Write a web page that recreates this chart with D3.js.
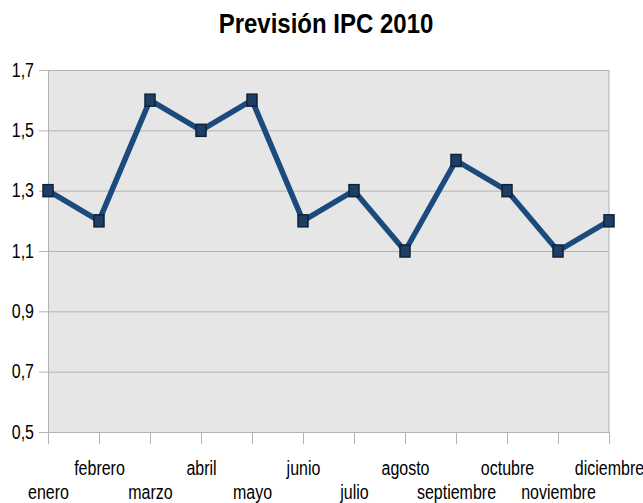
<!DOCTYPE html>
<html><head><meta charset="utf-8">
<script src="https://cdn.jsdelivr.net/npm/d3@7"></script>
<style>body{margin:0;background:#fff}</style>
</head><body>
<svg id="c" width="643" height="503"></svg>
<script>
const months = ["enero","febrero","marzo","abril","mayo","junio","julio","agosto","septiembre","octubre","noviembre","diciembre"];
const values = [1.3,1.2,1.6,1.5,1.6,1.2,1.3,1.1,1.4,1.3,1.1,1.2];
const yTicks = [0.5,0.7,0.9,1.1,1.3,1.5,1.7];
const title = "Previsión IPC 2010";

const svg = d3.select("#c");
const L = 48, R = 609, T = 70, B = 432;
const x = d3.scalePoint().domain(months).range([L, R]);
const y = d3.scaleLinear().domain([0.5, 1.7]).range([B, T]);
const fmt = v => d3.format(".1f")(v).replace(".", ",");
const axisFont = "'Liberation Sans',Arial,sans-serif";
const SY = 1.3;

svg.append("rect").attr("x", L).attr("y", T).attr("width", R - L).attr("height", B - T).attr("fill", "#e6e6e6");

// y axis with gridlines
const ya = svg.append("g").attr("transform", `translate(${L},0)`)
  .call(d3.axisLeft(y).tickValues(yTicks).tickFormat(fmt).tickSizeInner(-(R - L)).tickSizeOuter(0));
ya.select(".domain").attr("stroke", "#b3b3b3");
ya.selectAll(".tick line").attr("stroke", "#b3b3b3").attr("x1", -9);
ya.selectAll(".tick text").attr("font-family", axisFont).attr("font-size", 16).attr("fill", "#000")
  .attr("x", 0).attr("y", 0).attr("dy", 0).attr("text-anchor", "end")
  .attr("transform", `translate(-14,6) scale(1,${SY})`);

// x axis
const xa = svg.append("g").attr("transform", `translate(0,${B})`)
  .call(d3.axisBottom(x).tickSizeInner(12).tickSizeOuter(0));
xa.select(".domain").attr("stroke", "#b3b3b3");
xa.selectAll(".tick line").attr("stroke", "#b3b3b3");
xa.selectAll(".tick text").attr("font-family", axisFont).attr("font-size", 16).attr("fill", "#000")
  .attr("y", 0).attr("dy", 0)
  .attr("transform", (d, i) => `translate(0,${i % 2 === 0 ? 67 : 43}) scale(1,${SY})`);

// right border
svg.append("line").attr("x1", R).attr("x2", R).attr("y1", T).attr("y2", B).attr("stroke", "#b3b3b3");

// line
svg.append("path").datum(values)
  .attr("d", d3.line().x((d, i) => x(months[i])).y(d => y(d)))
  .attr("fill", "none").attr("stroke", "#1b4b7c").attr("stroke-width", 5.5).attr("stroke-linejoin", "round");

svg.selectAll("rect.m").data(values).enter().append("rect").attr("class", "m")
  .attr("x", (d, i) => x(months[i]) - 5).attr("y", d => y(d) - 6)
  .attr("width", 10).attr("height", 12)
  .attr("fill", "#1d3f63").attr("stroke", "#0d2238").attr("stroke-width", 1.5);

svg.append("text").attr("text-anchor", "middle")
  .attr("transform", "translate(326,33) scale(1,1.15)")
  .attr("font-family", "'Liberation Sans',Arial,sans-serif").attr("font-weight", "bold").attr("font-size", 24)
  .text(title);
</script>
</body></html>
